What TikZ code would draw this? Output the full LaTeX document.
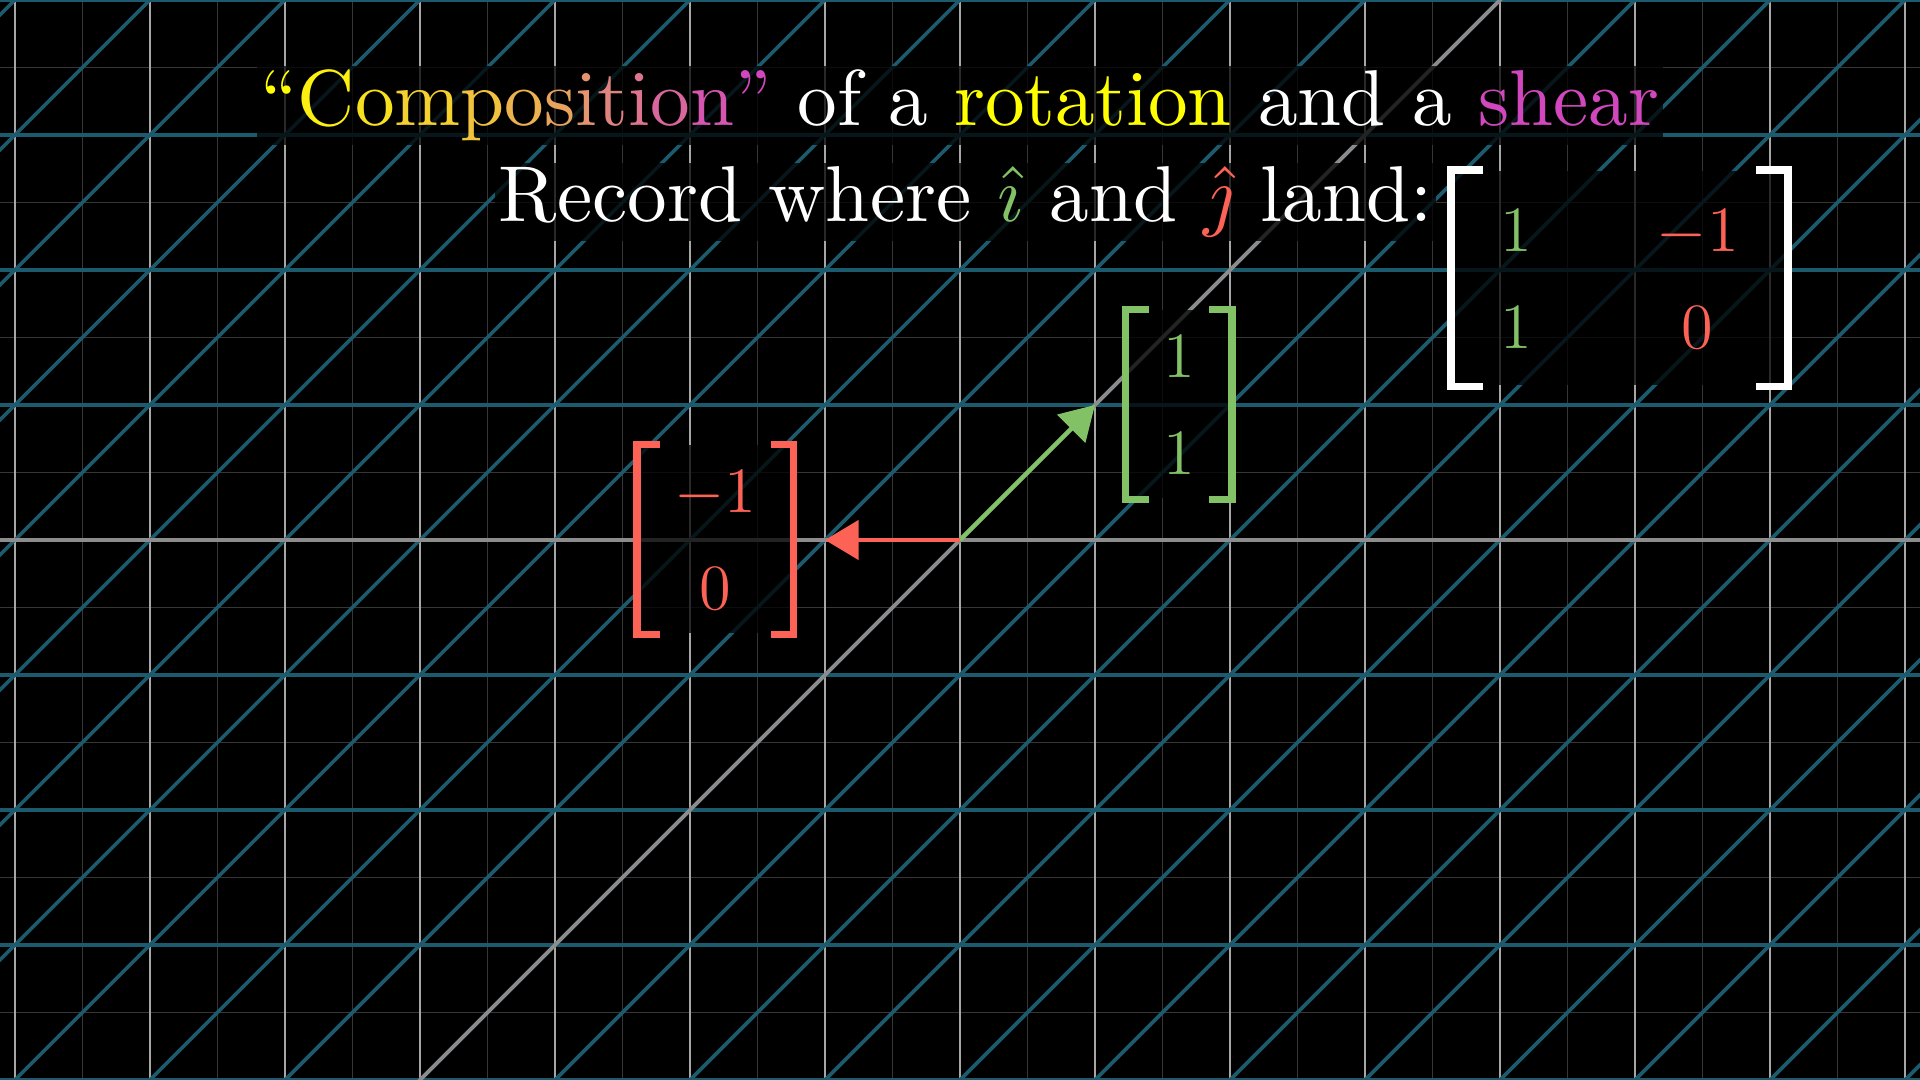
\RequirePackage{fix-cm}
\documentclass[tikz,border=0pt]{standalone}
\usepackage{amsmath}
\usepackage{graphicx}
\usetikzlibrary{arrows.meta,matrix}
\definecolor{TealGrid}{HTML}{1C5B6E}
\definecolor{FaintGrid}{HTML}{363636}
\definecolor{PaleGrid}{HTML}{A6A6A6}
\definecolor{AxisGray}{HTML}{8C8C8C}
\definecolor{IhatGreen}{HTML}{83C167}
\definecolor{JhatRed}{HTML}{FC6255}
\definecolor{TitleYellow}{HTML}{FFFF00}
\definecolor{ShearPink}{HTML}{D147BD}
\newcommand{\gc}[2]{\textcolor{TitleYellow!#1!ShearPink}{#2}}

\begin{document}
\begin{tikzpicture}[
    faint/.style={FaintGrid,line width=0.3pt},
    pale/.style={PaleGrid,line width=0.3pt},
    tealline/.style={TealGrid,line width=0.75pt},
    axis/.style={AxisGray,line width=0.8pt},
    vec/.style={line width=0.95pt,-{Triangle[length=0.25cm,width=0.29cm]}},
    bg/.style={fill=black,fill opacity=0.75,text opacity=1},
    headline/.style={bg,inner sep=0.8pt,text=white,font=\fontsize{10}{12}\selectfont},
    colvec/.style={matrix of math nodes,bg,inner xsep=0.27cm,inner ysep=0.177cm,
      row sep=0.4cm,column sep=0.925cm,
      nodes={inner sep=0pt,text height=0.32cm,text depth=0cm,anchor=center,
        font=\fontsize{13.6}{16}\selectfont}},
    brk/.style={line width=1.5pt}]
  \useasboundingbox (-7.1111,-4) rectangle (7.1111,4);
  \fill[black] (-7.1111,-4) rectangle (7.1111,4);

  % original and transformed grid
  \begin{scope}
    \clip (-7.1111,-4) rectangle (7.1111,4);
    \draw[faint,step=0.5] (-7.5,-4.5) grid (7.5,4.5);
    \foreach \x in {-7,...,7}
      \draw[pale] (\x,-4.2) -- (\x,4.2);
    \foreach \y in {-4,...,4}
      \draw[tealline] (-7.3,\y) -- (7.3,\y);
    \foreach \k in {-11,...,11}
      \draw[tealline] (-8,-8+\k) -- (8,8+\k);
    \draw[axis] (-7.3,0) -- (7.3,0);
    \draw[axis] (-4.5,-4.5) -- (4.5,4.5);
  \end{scope}

  \coordinate (origin) at (0,0);
  \coordinate (itip) at (1,1);
  \coordinate (jtip) at (-1,0);
  \draw[vec,IhatGreen] (origin) -- (itip);
  \draw[vec,JhatRed] (origin) -- (jtip);

  \node[headline,anchor=base] (title) at (0,3.07)
    {\scalebox{1.67}{\gc{100}{``}\gc{92}{C}\gc{83}{o}\gc{75}{m}\gc{67}{p}\gc{58}{o}\gc{50}{s}\gc{42}{i}\gc{33}{t}\gc{25}{i}\gc{17}{o}\gc{8}{n}\gc{0}{''}
     of a \textcolor{TitleYellow}{rotation} and a \textcolor{ShearPink}{shear}}};
  \node[headline,anchor=base west] (record) at (-3.45,2.358)
    {\scalebox{1.67}{Record where $\textcolor{IhatGreen}{\hat{\imath}}$ and $\textcolor{JhatRed}{\hat{\jmath}}$ land:}};

  % landing spots
  \matrix (ivec) [colvec,nodes={text=IhatGreen}] at (1.621,1.006) {1\\ 1\\};
  \matrix (jvec) [colvec,nodes={text=JhatRed}] at (-1.8125,0.006) {-1\\ 0\\};
  \matrix (rec) [colvec,inner xsep=0.36cm,inner ysep=0.275cm,
    column 1/.style={nodes={text=IhatGreen}},column 2/.style={nodes={text=JhatRed}}]
    at (4.885,1.94) {1 & -1\\ 1 & 0\\};

  \draw[brk,IhatGreen] ([xshift=0.17cm]ivec.north west) -- (ivec.north west) -- (ivec.south west) -- ([xshift=0.17cm]ivec.south west);
  \draw[brk,IhatGreen] ([xshift=-0.17cm]ivec.north east) -- (ivec.north east) -- (ivec.south east) -- ([xshift=-0.17cm]ivec.south east);
  \draw[brk,JhatRed] ([xshift=0.17cm]jvec.north west) -- (jvec.north west) -- (jvec.south west) -- ([xshift=0.17cm]jvec.south west);
  \draw[brk,JhatRed] ([xshift=-0.17cm]jvec.north east) -- (jvec.north east) -- (jvec.south east) -- ([xshift=-0.17cm]jvec.south east);
  \draw[brk,white,line width=1.6pt] ([xshift=0.237cm]rec.north west) -- (rec.north west) -- (rec.south west) -- ([xshift=0.237cm]rec.south west);
  \draw[brk,white,line width=1.6pt] ([xshift=-0.237cm]rec.north east) -- (rec.north east) -- (rec.south east) -- ([xshift=-0.237cm]rec.south east);
\end{tikzpicture}
\end{document}
